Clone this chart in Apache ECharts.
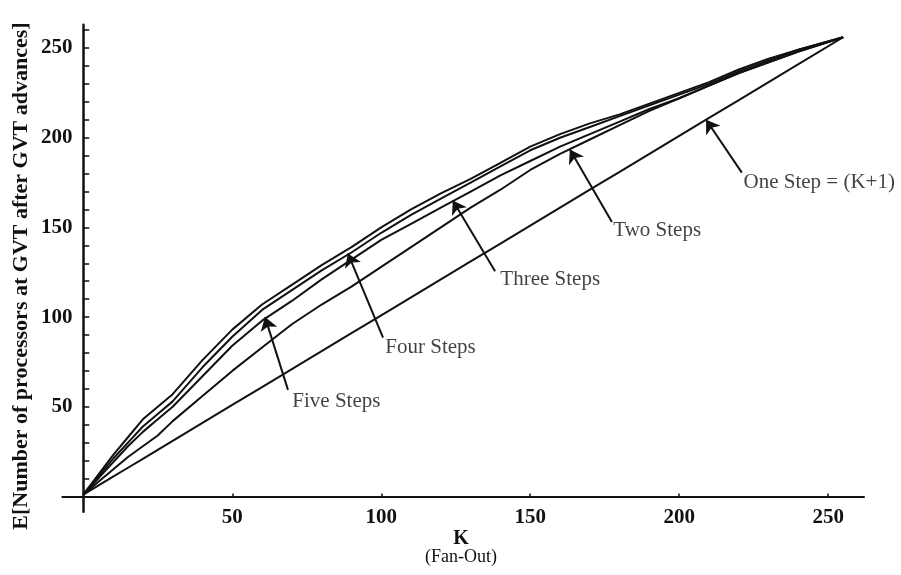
<!DOCTYPE html>
<html>
<head>
<meta charset="utf-8">
<script src="https://cdn.jsdelivr.net/npm/echarts@6/dist/echarts.min.js"></script>
<style>
  html, body { margin: 0; padding: 0; background: #fff; }
  #chart { width: 901px; height: 575px; }
</style>
</head>
<body>
<div id="chart"></div>
<script>
// Fan-out K sampled for every curve
const fanOut = [0, 5, 10, 15, 20, 25, 30, 40, 50, 60, 70, 80, 90, 100, 110, 120,
  130, 140, 150, 160, 170, 180, 190, 200, 210, 220, 230, 240, 255];

// Expected number of processors at GVT after GVT advances
const oneStep = [1, 6, 11, 16, 21, 26, 31, 41, 51, 61, 71, 81, 91, 101, 111, 121,
  131, 141, 151, 161, 171, 181, 191, 201, 211, 221, 231, 241, 256];
const twoSteps = [1, 8, 15, 22, 28, 34, 42, 56, 70, 83, 96, 107, 117, 128, 139, 150,
  161, 171, 182, 191, 199, 207, 215, 222, 229, 236, 242, 248, 256];
const threeSteps = [1, 10, 19, 28, 36, 43, 50, 67, 84, 98, 109, 121, 132, 143, 152, 161,
  170, 179, 187, 195, 202, 209, 216, 222, 229, 236, 242, 248, 256];
const fourSteps = [1, 11, 21, 30, 39, 46, 53, 72, 89, 104, 115, 126, 136, 147, 157, 166,
  175, 184, 193, 200, 206, 212, 218, 224, 230, 237, 243, 249, 256];
const fiveSteps = [1, 12, 23, 33, 43, 50, 57, 76, 93, 107, 118, 129, 139, 150, 160, 169,
  177, 186, 195, 202, 208, 213, 219, 225, 231, 238, 244, 249, 256];

// Tick labels
const xTicks = [50, 100, 150, 200, 250];
const yTicks = [50, 100, 150, 200, 250];
const yMinorTicks = [10, 20, 30, 40, 50, 60, 70, 80, 90, 100, 110, 120, 130, 140, 150,
  160, 170, 180, 190, 200, 210, 220, 230, 240, 250, 260];

// Callouts: text, anchor of the text [K, E], arrow tail [K, E], arrow tip [K, E]
const calloutText = ['One Step = (K+1)', 'Two Steps', 'Three Steps', 'Four Steps', 'Five Steps'];
const calloutAnchor = [[221.4, 174.8], [177.7, 148.5], [139.8, 120.7], [101.2, 83.3], [70, 52.7]];
const calloutTail = [[221, 180.5], [177.4, 153], [138.2, 125.5], [100.6, 88.5], [68.7, 59.4]];
const calloutTip = [[209, 210], [163.3, 193.4], [124, 165], [88.8, 135.5], [61, 100]];

const SERIF = '"Liberation Serif", "Times New Roman", serif';
const INK = '#111';

function pairs(ys) {
  return fanOut.map((k, i) => [k, ys[i]]);
}

function curve(name, ys) {
  return {
    name: name,
    type: 'line',
    data: pairs(ys),
    showSymbol: false,
    symbol: 'none',
    smooth: false,
    lineStyle: { color: INK, width: 2 },
    silent: true,
    z: 3
  };
}

const chart = echarts.init(document.getElementById('chart'), null, { renderer: 'canvas' });

chart.setOption({
  animation: false,
  backgroundColor: '#fff',
  grid: { left: 62.4, right: 37, top: 24.7, bottom: 63.3, containLabel: false },
  xAxis: {
    type: 'value',
    min: -7,
    max: 262,
    splitLine: { show: false },
    axisLine: { show: true, onZero: true, lineStyle: { color: INK, width: 2 } },
    axisTick: { show: true, inside: true, length: 3, customValues: xTicks, lineStyle: { color: INK, width: 1.5 } },
    axisLabel: {
      show: true, customValues: xTicks, margin: -5,
      fontFamily: SERIF, fontSize: 21, fontWeight: 'bold', color: INK
    }
  },
  yAxis: {
    type: 'value',
    min: -8.5,
    max: 263,
    splitLine: { show: false },
    axisLine: { show: true, onZero: true, lineStyle: { color: INK, width: 2.5 } },
    axisTick: { show: true, inside: true, length: 6, customValues: yMinorTicks, lineStyle: { color: INK, width: 1.5 } },
    axisLabel: {
      show: true, customValues: yTicks, margin: -10,
      fontFamily: SERIF, fontSize: 21, fontWeight: 'bold', color: INK
    }
  },
  graphic: [
    {
      type: 'text',
      x: 21, y: 276,
      rotation: Math.PI / 2,
      style: {
        text: 'E[Number of processors at GVT after GVT advances]',
        fontFamily: SERIF, fontSize: 22, fontWeight: 'bold', fill: INK,
        align: 'center', verticalAlign: 'middle'
      }
    },
    {
      type: 'text',
      x: 461, y: 539,
      style: {
        text: 'K',
        fontFamily: SERIF, fontSize: 20, fontWeight: 'bold', fill: INK,
        align: 'center', verticalAlign: 'middle'
      }
    },
    {
      type: 'text',
      x: 461, y: 557,
      style: {
        text: '(Fan-Out)',
        fontFamily: SERIF, fontSize: 18, fill: INK,
        align: 'center', verticalAlign: 'middle'
      }
    }
  ],
  series: [
    curve('One Step', oneStep),
    curve('Two Steps', twoSteps),
    curve('Three Steps', threeSteps),
    curve('Four Steps', fourSteps),
    curve('Five Steps', fiveSteps),
    {
      name: 'callouts',
      type: 'scatter',
      data: calloutText.map((t, i) => ({ name: t, value: calloutAnchor[i] })),
      symbolSize: 1,
      itemStyle: { color: 'rgba(0,0,0,0)' },
      silent: true,
      label: {
        show: true,
        position: 'right',
        distance: 0,
        formatter: '{b}',
        fontFamily: SERIF,
        fontSize: 21,
        color: INK
      },
      markLine: {
        silent: true,
        symbol: ['none', 'arrow'],
        symbolSize: 13,
        label: { show: false },
        lineStyle: { color: INK, width: 2, type: 'solid' },
        data: calloutTail.map((t, i) => [{ coord: t }, { coord: calloutTip[i] }])
      },
      z: 4
    }
  ]
});
</script>
</body>
</html>
